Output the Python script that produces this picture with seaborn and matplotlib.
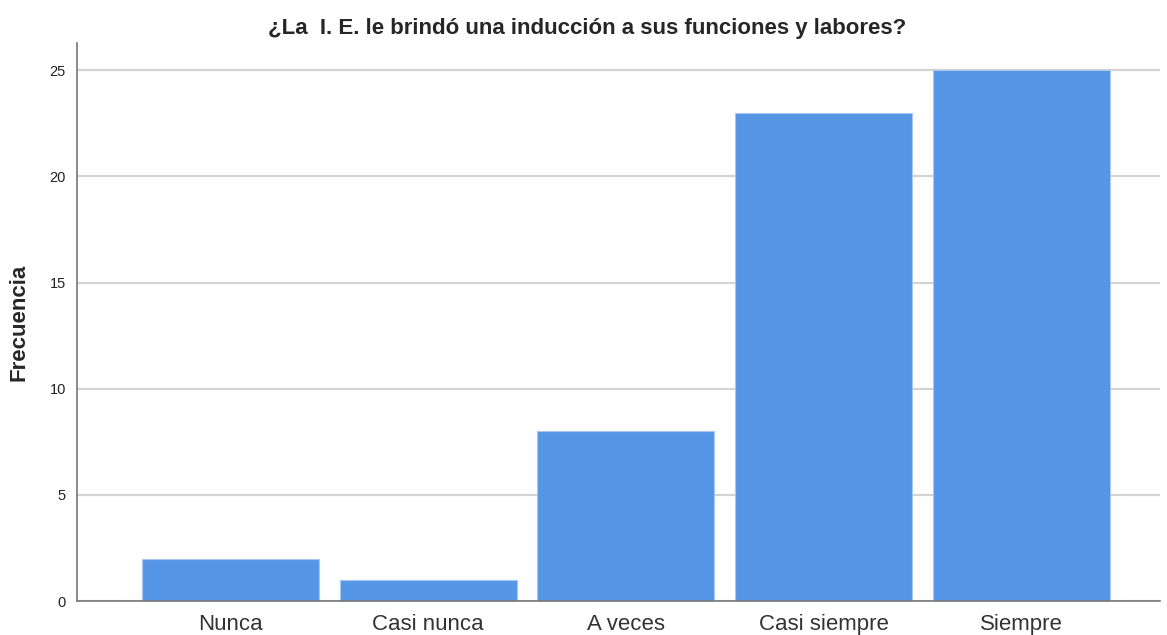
import matplotlib
matplotlib.use("Agg")
import matplotlib.pyplot as plt
import seaborn as sns
import pandas as pd

# Data
categorias = ["Nunca", "Casi nunca", "A veces", "Casi siempre", "Siempre"]
frecuencias = [2, 1, 8, 23, 25]
y_ticks = [0, 5, 10, 15, 20, 25]

titulo = "¿La  I. E. le brindó una inducción a sus funciones y labores?"

df = pd.DataFrame({"categoria": categorias, "frecuencia": frecuencias})

sns.set_style("white")
plt.rcParams["font.family"] = ["Liberation Sans", "DejaVu Sans"]

fig = plt.figure(figsize=(11.67, 6.35), dpi=100)
ax = fig.add_axes([0.066, 0.0535, 0.928, 0.8785])

ax.set_axisbelow(True)
for t in y_ticks:
    ax.axhline(t, color="#d3d3d3", linewidth=1.6, zorder=0)

sns.barplot(data=df, x="categoria", y="frecuencia", color="#5596e6",
            saturation=1, width=0.895, edgecolor="#a9c8f0", linewidth=0.8,
            ax=ax, zorder=2)

ax.set_xlim(-0.775, 4.70)
ax.set_ylim(0, 26.27)
ax.set_yticks(y_ticks)
ax.set_yticklabels([str(t) for t in y_ticks], fontsize=10.5, color="#222222")
ax.tick_params(axis="y", length=0, pad=8)
ax.tick_params(axis="x", length=0, pad=9, labelsize=16, labelcolor="#333333")

for s in ["top", "right"]:
    ax.spines[s].set_visible(False)
ax.spines["left"].set_color("#777777")
ax.spines["left"].set_linewidth(1.2)
ax.spines["bottom"].set_color("#777777")
ax.spines["bottom"].set_linewidth(1.2)
ax.spines["bottom"].set_zorder(3)

ax.set_xlabel("")
ax.set_ylabel("Frecuencia", fontsize=16, fontweight="bold")
ax.yaxis.set_label_coords(-0.044, 0.5)
fig.text(0.503, 0.955, titulo, ha="center", va="center", fontsize=16, fontweight="bold")

fig.savefig("out.png", dpi=100, facecolor="white")
